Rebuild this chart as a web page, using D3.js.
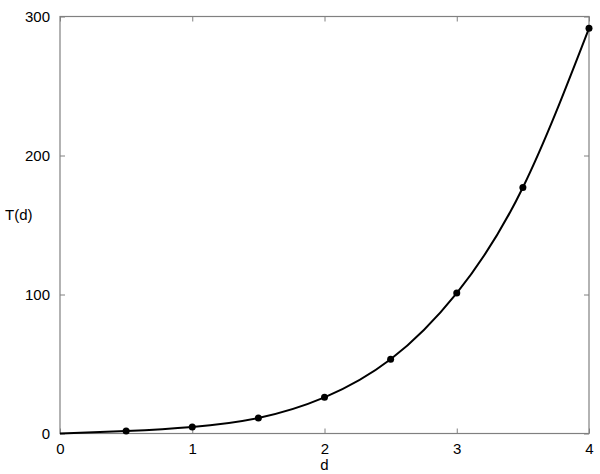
<!DOCTYPE html>
<html>
<head>
<meta charset="utf-8">
<script src="https://cdn.jsdelivr.net/npm/d3@7"></script>
<style>
  body { margin: 0; background: #fff; }
  svg text { font-family: "Liberation Sans", Arial, Helvetica, sans-serif; font-size: 15px; fill: #000; }
</style>
</head>
<body>
<div id="chart"></div>
<script>
// data
var dValues = [0.5, 1, 1.5, 2, 2.5, 3, 3.5, 4];
var tValues = [1.8, 4.7, 11.2, 26, 53.4, 101, 177, 291.5];
var xTicks = [0, 1, 2, 3, 4];
var yTicks = [0, 100, 200, 300];

var width = 600, height = 474;
var margin = {top: 16.5, right: 11, bottom: 40.5, left: 60};

var svg = d3.select("#chart")
    .append("svg")
        .attr("width", width)
        .attr("height", height);

var x = d3.scaleLinear()
    .domain([0, 4])
    .range([margin.left, width - margin.right]);

var y = d3.scaleLinear()
    .domain([0, 300])
    .range([height - margin.bottom, margin.top]);

var boxColor = "#808080";

// ticks pointing inward on all four sides
function styleAxis(g) {
    g.select(".domain").remove();
    g.selectAll(".tick line").attr("stroke", boxColor);
}

svg.append("g")
    .attr("transform", "translate(0," + y(0) + ")")
    .call(d3.axisBottom(x).tickValues(xTicks).tickSizeInner(-5).tickPadding(10).tickFormat(d3.format("d")))
    .call(styleAxis)
    .call(function(g) { g.selectAll("text").attr("font-size", null); });

svg.append("g")
    .attr("transform", "translate(0," + y(300) + ")")
    .call(d3.axisTop(x).tickValues(xTicks).tickSizeInner(-5).tickFormat(""))
    .call(styleAxis);

svg.append("g")
    .attr("transform", "translate(" + x(0) + ",0)")
    .call(d3.axisLeft(y).tickValues(yTicks).tickSizeInner(-5).tickPadding(10).tickFormat(d3.format("d")))
    .call(styleAxis)
    .call(function(g) { g.selectAll("text").attr("font-size", null); });

svg.append("g")
    .attr("transform", "translate(" + x(4) + ",0)")
    .call(d3.axisRight(y).tickValues(yTicks).tickSizeInner(-5).tickFormat(""))
    .call(styleAxis);

// axes box
svg.append("rect")
    .attr("x", x(0))
    .attr("y", y(300))
    .attr("width", x(4) - x(0))
    .attr("height", y(0) - y(300))
    .attr("fill", "none")
    .attr("stroke", boxColor)
    .attr("stroke-width", 1.2);

// smooth curve through the origin and the points
var curveData = [{d: 0, t: 0}].concat(dValues.map(function(d, i) { return {d: d, t: tValues[i]}; }));

svg.append("path")
    .datum(curveData)
    .attr("fill", "none")
    .attr("stroke", "#000")
    .attr("stroke-width", 2)
    .attr("d", d3.line()
        .x(function(p) { return x(p.d); })
        .y(function(p) { return y(p.t); })
        .curve(d3.curveNatural)
    );

svg.append("g")
    .selectAll("circle")
    .data(curveData.slice(1))
    .enter().append("circle")
        .attr("cx", function(p) { return x(p.d); })
        .attr("cy", function(p) { return y(p.t); })
        .attr("r", 3.5)
        .attr("fill", "#000");

// axis labels
svg.append("text")
    .attr("x", x(2))
    .attr("y", 470)
    .attr("text-anchor", "middle")
    .text("d");

svg.append("text")
    .attr("x", 5)
    .attr("y", 220)
    .text("T(d)");
</script>
</body>
</html>
